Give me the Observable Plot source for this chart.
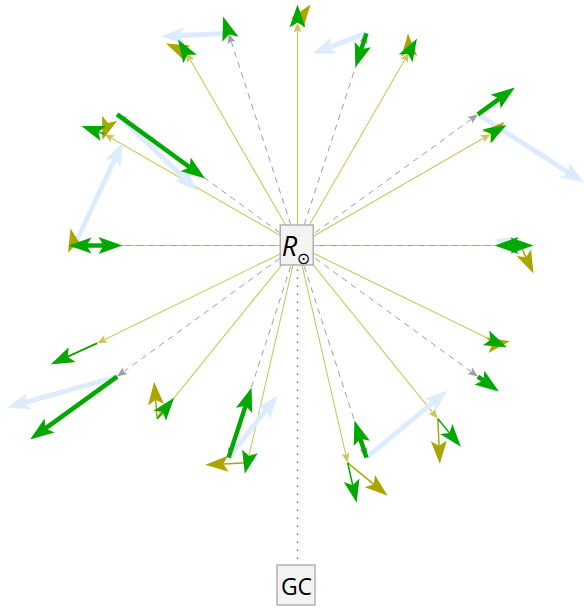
<!DOCTYPE html>
<html><head><meta charset="utf-8">
<script src="https://cdn.jsdelivr.net/npm/d3@7"></script>
<script src="https://cdn.jsdelivr.net/npm/@observablehq/plot@0.6"></script>
<style>body{margin:0;background:#fff}</style>
</head><body><div id="chart"></div>
<script>
// ---- data (units: same scale in x and y, y up, Sun at origin) ----
const starDistance = 223;
const gcDistance = 340;
const labels = ["R", "⊙", "GC"];

// stars on yellow sight lines: direction (deg) and velocity (olive), radial component (green)
const yellowAngles = [90, 60, 30, 0, -26, -51, -77, -103, -129, -154, 180, 150, 120];
const oliveVx = [13, -1, 14, 13, 12, 2, 40, -42, -3, -46, -4, -2, -20];
const oliveVy = [18, 19, 12, -28, 2, -45, -33, -2, 37, -21, 17, -6, 9];
const greenYVx = [0, 8, 16, 13, 9, 23, 9, -2.5, 17, -46, -6, -23, -8];
const greenYVy = [18, 14, 9, 0, -4, -28, -40, -11, 21, -21, 0, 8, 13];

// stars on gray dashed sight lines: direction (deg), velocity (light blue), radial component (green)
const grayAngles = [0, 36, 72, 108, 144, 180, -36, -72, -108, -144];
const blueVx = [-26, 106, -54, -67, 80, 48, 20, 81, 49, -110];
const blueVy = [6, -68, -20, -3, -76, 103, -17, 67, 62, -31];
const greenGVx = [-26, 37, -11, -5.5, 88, 48, 21, -12, 23, -87];
const greenGVy = [0, 27, -34, 17, -64, 0, -15, 37, 70, -63];

// ---- helpers ----
const rad = a => a * Math.PI / 180;
const star = a => [starDistance * Math.cos(rad(a)), starDistance * Math.sin(rad(a))];
function fromStars(angles, vx, vy) {
  return angles.map((a, i) => { const [x, y] = star(a); return {x0: x, y0: y, x1: x + vx[i], y1: y + vy[i]}; });
}
function sightLines(angles) {
  return angles.map(a => { const [x, y] = star(a); return {x0: 0, y0: 0, x1: x, y1: y}; });
}
function geom(arrs, L, W, N, prefix) {
  const shafts = [], heads = [];
  arrs.forEach((d, i) => {
    const dx = d.x1 - d.x0, dy = d.y1 - d.y0, len = Math.hypot(dx, dy) || 1;
    const ux = dx / len, uy = dy / len, px = -uy, py = ux;
    const bx = d.x1 - L * ux, by = d.y1 - L * uy;
    const nx = d.x1 - (L - N) * ux, ny = d.y1 - (L - N) * uy;
    if (len > L - N) shafts.push({x1: d.x0, y1: d.y0, x2: nx, y2: ny});
    const id = prefix + i;
    heads.push({id, x: d.x1, y: d.y1}, {id, x: bx + W * px, y: by + W * py},
               {id, x: nx, y: ny}, {id, x: bx - W * px, y: by - W * py});
  });
  return {shafts, heads};
}

const cYellowLine = "#cdc65c", cGray = "#9a9fa8", cBlue = "#dcecfd", cOlive = "#aaa500", cGreen = "#00a800";

const yLines = geom(sightLines(yellowAngles), 10, 4, 2, "yl");
const gLines = geom(sightLines(grayAngles), 10, 4, 2, "gl");
const blue = geom(fromStars(grayAngles, blueVx, blueVy), 23, 8.5, 5, "b");
const olive = geom(fromStars(yellowAngles, oliveVx, oliveVy), 23, 8, 5, "o");
const greenY = geom(fromStars(yellowAngles, greenYVx, greenYVy), 23, 8, 5, "gy");
const greenG = geom(fromStars(grayAngles, greenGVx, greenGVy), 24, 8.5, 5, "gg");

const link = (g, stroke, w, extra = {}) => Plot.link(g.shafts, {x1: "x1", y1: "y1", x2: "x2", y2: "y2", stroke, strokeWidth: w, strokeLinecap: "butt", ...extra});
const head = (g, fill) => Plot.line(g.heads, {x: "x", y: "y", z: "id", fill, stroke: "none"});

const chart = Plot.plot({
  width: 585, height: 608, margin: 0,
  x: {domain: [-297, 288], axis: null},
  y: {domain: [-363, 245], axis: null},
  style: {background: "white", overflow: "visible"},
  marks: [
    link(yLines, cYellowLine, 1.1),
    link(gLines, cGray, 1, {strokeDasharray: "6,5"}),
    Plot.link([gcDistance], {x1: 0, y1: 0, x2: 0, y2: d => -d, stroke: "#777", strokeWidth: 1.5, strokeDasharray: "1.5,6.5"}),
    head(yLines, cYellowLine),
    head(gLines, cGray),
    link(blue, cBlue, 5), head(blue, cBlue),
    link(olive, cOlive, 1.5), head(olive, cOlive),
    link(greenY, cGreen, 1.5), head(greenY, cGreen),
    link(greenG, cGreen, 4.5), head(greenG, cGreen),
    Plot.rect([0], {x1: -16.8, x2: 16.2, y1: -20, y2: 20, fill: "#f3f3f3", stroke: "#a0a0a0", strokeWidth: 1.2}),
    Plot.rect([gcDistance], {x1: -20, x2: 18, y1: d => -d - 20, y2: d => -d + 20, fill: "#f3f3f3", stroke: "#a0a0a0", strokeWidth: 1.2}),
    Plot.text([labels[0]], {x: -8, y: -10, text: d => d, fontSize: 27, fontStyle: "italic", fontFamily: "Open Sans, DejaVu Sans, sans-serif", lineAnchor: "bottom", fill: "black"}),
    Plot.text([labels[1]], {x: 6, y: -13, text: d => d, fontSize: 16, fontFamily: "DejaVu Sans, sans-serif", lineAnchor: "middle", fill: "black"}),
    Plot.text([labels[2]], {x: -1, y: -gcDistance - 2, text: d => d, fontSize: 23, fontFamily: "Open Sans, DejaVu Sans, sans-serif", lineAnchor: "middle", fill: "black"})
  ]
});
document.getElementById("chart").appendChild(chart);
</script>
</body></html>
